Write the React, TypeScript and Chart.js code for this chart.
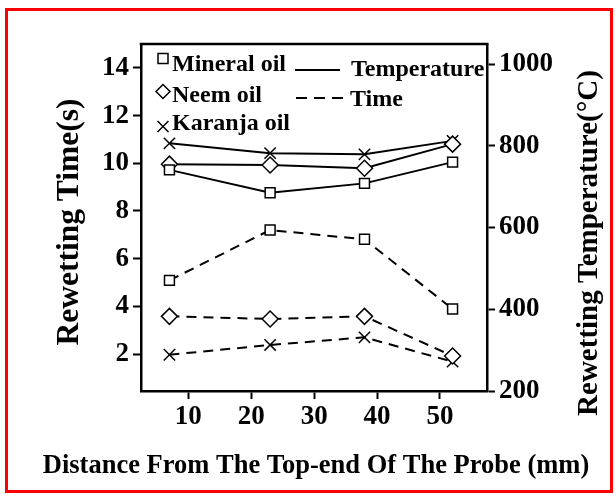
import React, { useEffect, useRef } from 'react';
import { Chart, registerables } from 'chart.js';

Chart.register(...registerables);

const distances = [7, 23, 38, 52];
const mineralTime = [5.09, 7.2, 6.81, 3.89];
const neemTime = [3.58, 3.47, 3.58, 1.92];
const karanjaTime = [1.97, 2.38, 2.7, 1.68];
const mineralTemp = [741, 685, 708, 760];
const neemTemp = [755, 753, 745, 804];
const karanjaTemp = [806, 782, 779, 812];
const xTicks = [10, 20, 30, 40, 50];
const timeTicks = [2, 4, 6, 8, 10, 12, 14];
const tempTicks = [200, 400, 600, 800, 1000];
const oilNames = ['Mineral oil', 'Neem oil', 'Karanja oil'];
const lineNames = ['Temperature', 'Time'];
const xTitle = 'Distance From The Top-end Of The Probe (mm)';
const yTitle = 'Rewetting Time(s)';
const y2Title = 'Rewetting Temperature(\u00B0C)';

const FONT = '"Liberation Serif", "Times New Roman", serif';

const pts = (vals: number[]) => distances.map((d, i) => ({ x: d, y: vals[i] }));

const styles = ['rect', 'rectRot', 'crossRot'];
const radii = [7, 8, 8];

function drawMarker(ctx: CanvasRenderingContext2D, kind: number, x: number, y: number) {
  ctx.beginPath();
  if (kind === 0) {
    ctx.rect(x - 5, y - 5, 10, 10);
  } else if (kind === 1) {
    ctx.moveTo(x, y - 7);
    ctx.lineTo(x + 7, y);
    ctx.lineTo(x, y + 7);
    ctx.lineTo(x - 7, y);
    ctx.closePath();
  } else {
    ctx.moveTo(x - 5.5, y - 5.5);
    ctx.lineTo(x + 5.5, y + 5.5);
    ctx.moveTo(x + 5.5, y - 5.5);
    ctx.lineTo(x - 5.5, y + 5.5);
  }
  ctx.stroke();
}

const decor = {
  id: 'decor',
  afterDraw(chart: any) {
    const { ctx, chartArea: ca } = chart;
    ctx.save();
    ctx.strokeStyle = '#000';
    ctx.fillStyle = '#000';
    ctx.lineWidth = 2.5;
    ctx.lineCap = 'square';
    ctx.beginPath();
    ctx.moveTo(ca.left, ca.top);
    ctx.lineTo(ca.right, ca.top);
    ctx.stroke();
    ctx.lineCap = 'butt';

    // titles
    ctx.textAlign = 'center';
    ctx.textBaseline = 'middle';
    ctx.font = `bold 31.5px ${FONT}`;
    ctx.save();
    ctx.translate(70, 222);
    ctx.rotate(-Math.PI / 2);
    ctx.fillText(yTitle, 0, 0);
    ctx.restore();
    ctx.font = `bold 29px ${FONT}`;
    ctx.save();
    ctx.translate(590, 243);
    ctx.rotate(-Math.PI / 2);
    ctx.fillText(y2Title, 0, 0);
    ctx.restore();
    ctx.font = `bold 26.5px ${FONT}`;
    ctx.textBaseline = 'alphabetic';
    ctx.fillText(xTitle, 316, 473);

    // legend
    ctx.lineWidth = 1.5;
    const my = [58.5, 91.5, 126.5];
    const by = [71, 102, 130];
    ctx.font = `bold 24px ${FONT}`;
    ctx.textAlign = 'left';
    for (let i = 0; i < 3; i++) {
      drawMarker(ctx, i, 163, my[i]);
      ctx.fillText(oilNames[i], 172, by[i]);
    }
    ctx.lineWidth = 2;
    ctx.beginPath();
    ctx.moveTo(295, 70);
    ctx.lineTo(340, 70);
    ctx.stroke();
    ctx.fillText(lineNames[0], 351, 75.5);
    ctx.setLineDash([11, 7]);
    ctx.beginPath();
    ctx.moveTo(296, 98);
    ctx.lineTo(346, 98);
    ctx.stroke();
    ctx.setLineDash([]);
    ctx.fillText(lineNames[1], 350, 106);
    ctx.restore();
  },
};

export default function App() {
  const ref = useRef<HTMLCanvasElement>(null);
  useEffect(() => {
    const canvas = ref.current;
    if (!canvas) return;
    const series = [
      { vals: mineralTemp, axis: 'y2', dash: [] as number[], k: 0 },
      { vals: neemTemp, axis: 'y2', dash: [] as number[], k: 1 },
      { vals: karanjaTemp, axis: 'y2', dash: [] as number[], k: 2 },
      { vals: mineralTime, axis: 'y', dash: [10, 7], k: 0 },
      { vals: neemTime, axis: 'y', dash: [10, 7], k: 1 },
      { vals: karanjaTime, axis: 'y', dash: [10, 7], k: 2 },
    ];
    const tickFont = { family: FONT, size: 27, weight: 'bold' as const };
    const grid = {
      drawOnChartArea: false,
      drawTicks: true,
      tickLength: 8,
      tickWidth: 2,
      tickColor: '#000',
      color: '#000',
    };
    const border = { display: true, color: '#000', width: 2.5 };
    const plain = (v: any) => String(v);
    const chart = new Chart(canvas, {
      type: 'line',
      data: {
        datasets: series.map((s) => ({
          data: pts(s.vals),
          yAxisID: s.axis,
          borderColor: '#000',
          borderWidth: 2,
          borderDash: s.dash,
          pointStyle: styles[s.k] as any,
          pointRadius: radii[s.k],
          pointBorderWidth: 1.5,
          pointBorderColor: '#000',
          pointBackgroundColor: '#fff',
          tension: 0,
          fill: false,
        })),
      },
      options: {
        responsive: false,
        animation: false,
        devicePixelRatio: 1,
        layout: { padding: { top: 44, left: 0, right: 0, bottom: 0 } },
        plugins: { legend: { display: false }, tooltip: { enabled: false }, title: { display: false } },
        scales: {
          x: {
            type: 'linear',
            position: 'bottom',
            min: 2.48,
            max: 57.47,
            afterBuildTicks: (s: any) => {
              s.ticks = xTicks.map((v) => ({ value: v }));
            },
            afterFit: (s: any) => {
              s.height = 106;
            },
            ticks: { font: tickFont, color: '#000', padding: 2, maxRotation: 0, autoSkip: false, callback: plain },
            grid,
            border,
          },
          y: {
            type: 'linear',
            position: 'left',
            min: 0.45,
            max: 15.0,
            afterBuildTicks: (s: any) => {
              s.ticks = timeTicks.map((v) => ({ value: v }));
            },
            afterFit: (s: any) => {
              s.width = 141;
            },
            ticks: { font: tickFont, color: '#000', padding: 4, autoSkip: false, callback: plain },
            grid,
            border,
          },
          y2: {
            type: 'linear',
            position: 'right',
            min: 200,
            max: 1049,
            afterBuildTicks: (s: any) => {
              s.ticks = tempTicks.map((v) => ({ value: v }));
            },
            afterFit: (s: any) => {
              s.width = 129;
            },
            ticks: { font: tickFont, color: '#000', padding: 4, autoSkip: false, callback: plain },
            grid,
            border,
          },
        },
      },
      plugins: [decor],
    });
    return () => chart.destroy();
  }, []);

  return (
    <div style={{ position: 'fixed', left: 0, top: 0, width: 616, height: 497, background: '#fff' }}>
      <canvas ref={ref} width={616} height={497} style={{ position: 'absolute', left: 0, top: 0, width: 616, height: 497 }} />
      <div
        style={{
          position: 'absolute',
          left: 5,
          top: 8,
          width: 608,
          height: 485,
          border: '3px solid #f00',
          boxSizing: 'border-box',
          pointerEvents: 'none',
        }}
      />
    </div>
  );
}
